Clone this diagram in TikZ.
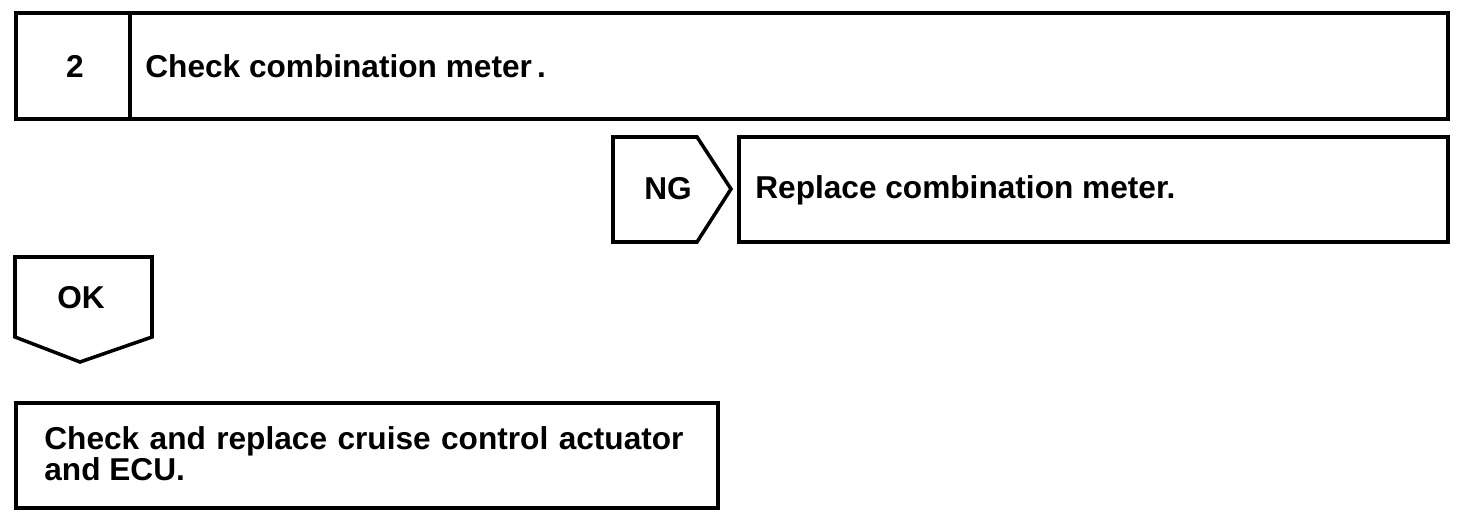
\documentclass[tikz,border=0pt]{standalone}
\usepackage{fontspec}
\setmainfont{Liberation Sans}
\usetikzlibrary{positioning}

\begin{document}
\begin{tikzpicture}[x=0.02cm, y=-0.02cm,
    frame/.style={line width=2pt, line join=miter},
    lbl/.style={font=\fontsize{18}{15.5}\selectfont\bfseries, inner sep=0pt}
  ]
  \useasboundingbox (0,0) rectangle (1472,520);
  % step header
  \draw[frame] (16,13) rectangle (1448,119);
  \draw[frame] (130,13) -- (130,119);
  \node[lbl] (num) at (75,66) {2};
  \node[lbl, anchor=west] (chk) at (145,66) {Check combination meter\,.};
  % NG branch
  \draw[frame] (613,137) -- (697,137) -- (731,189) -- (697,242) -- (613,242) -- cycle;
  \node[lbl] (ng) at (668,189) {NG};
  \draw[frame] (739,137) rectangle (1448,242);
  \node[lbl, anchor=west] (repl) at (755,190) {Replace combination meter.};
  % OK branch
  \draw[frame] (15,257) -- (152,257) -- (152,337) -- (80,362) -- (15,337) -- cycle;
  \node[lbl] (ok) at (81,298) {OK};
  \draw[frame] (16,403) rectangle (718,508);
  \node[lbl, anchor=west, align=left] (act) at (44,454)
    {Check\hspace{0.33em}and\hspace{0.33em}replace\hspace{0.33em}cruise\hspace{0.33em}control\hspace{0.33em}actuator\\and ECU.};
\end{tikzpicture}
\end{document}
